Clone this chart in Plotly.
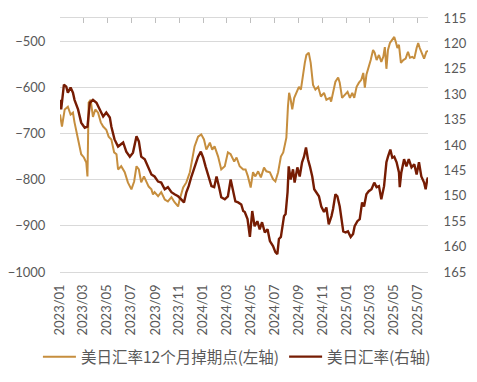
import plotly.graph_objects as go

# USD/JPY 12-month forward points (left axis)
fwd_points = [
    ("2023-01-01", -659), ("2023-01-06", -685), ("2023-01-13", -648), ("2023-01-21", -642),
    ("2023-01-28", -659), ("2023-02-03", -655), ("2023-02-07", -676), ("2023-02-12", -698),
    ("2023-02-18", -720), ("2023-02-24", -745), ("2023-03-03", -752), ("2023-03-09", -763),
    ("2023-03-12", -793), ("2023-03-15", -633), ("2023-03-20", -627), ("2023-03-26", -664),
    ("2023-04-01", -648), ("2023-04-08", -655), ("2023-04-15", -676), ("2023-04-21", -685),
    ("2023-04-29", -692), ("2023-05-05", -707), ("2023-05-12", -713), ("2023-05-19", -741),
    ("2023-05-25", -745), ("2023-05-29", -778), ("2023-06-06", -771), ("2023-06-15", -784),
    ("2023-06-23", -806), ("2023-07-02", -821), ("2023-07-09", -804), ("2023-07-15", -771),
    ("2023-07-21", -778), ("2023-07-27", -806), ("2023-08-03", -793), ("2023-08-09", -804),
    ("2023-08-15", -815), ("2023-08-22", -821), ("2023-08-26", -832), ("2023-08-30", -827),
    ("2023-09-08", -836), ("2023-09-16", -827), ("2023-09-25", -843), ("2023-10-03", -847),
    ("2023-10-12", -838), ("2023-10-20", -849), ("2023-10-29", -858), ("2023-11-02", -843),
    ("2023-11-11", -817), ("2023-11-19", -806), ("2023-11-28", -784), ("2023-12-04", -756),
    ("2023-12-10", -728), ("2023-12-19", -707), ("2023-12-27", -702), ("2024-01-03", -713),
    ("2024-01-09", -735), ("2024-01-18", -720), ("2024-01-24", -735), ("2024-01-30", -728),
    ("2024-02-08", -750), ("2024-02-16", -778), ("2024-02-25", -771), ("2024-03-04", -741),
    ("2024-03-11", -745), ("2024-03-20", -761), ("2024-03-26", -752), ("2024-04-03", -771),
    ("2024-04-12", -778), ("2024-04-18", -778), ("2024-04-24", -793), ("2024-05-01", -817),
    ("2024-05-07", -784), ("2024-05-13", -793), ("2024-05-20", -782), ("2024-05-27", -795),
    ("2024-06-04", -774), ("2024-06-10", -782), ("2024-06-19", -784), ("2024-06-27", -799),
    ("2024-07-03", -804), ("2024-07-10", -784), ("2024-07-17", -750), ("2024-07-23", -741),
    ("2024-07-27", -720), ("2024-07-31", -709), ("2024-08-04", -642), ("2024-08-07", -612),
    ("2024-08-11", -627), ("2024-08-15", -648), ("2024-08-20", -623), ("2024-08-26", -610),
    ("2024-09-01", -599), ("2024-09-06", -605), ("2024-09-12", -562), ("2024-09-16", -547),
    ("2024-09-20", -530), ("2024-09-26", -525), ("2024-10-01", -547), ("2024-10-07", -595),
    ("2024-10-13", -605), ("2024-10-20", -599), ("2024-10-27", -620), ("2024-11-04", -612),
    ("2024-11-10", -627), ("2024-11-19", -623), ("2024-11-22", -631), ("2024-11-27", -612),
    ("2024-12-03", -588), ("2024-12-10", -579), ("2024-12-14", -590), ("2024-12-20", -623),
    ("2024-12-27", -616), ("2025-01-03", -610), ("2025-01-09", -623), ("2025-01-15", -612),
    ("2025-01-20", -623), ("2025-01-26", -599), ("2025-02-01", -590), ("2025-02-07", -584),
    ("2025-02-12", -569), ("2025-02-16", -601), ("2025-02-20", -573), ("2025-02-26", -556),
    ("2025-03-03", -541), ("2025-03-09", -519), ("2025-03-13", -525), ("2025-03-18", -541),
    ("2025-03-24", -530), ("2025-03-30", -545), ("2025-04-04", -534), ("2025-04-08", -513),
    ("2025-04-12", -560), ("2025-04-16", -519), ("2025-04-21", -504), ("2025-04-27", -497),
    ("2025-05-02", -491), ("2025-05-06", -502), ("2025-05-10", -515), ("2025-05-14", -508),
    ("2025-05-19", -547), ("2025-05-25", -541), ("2025-05-31", -538), ("2025-06-06", -523),
    ("2025-06-11", -536), ("2025-06-17", -534), ("2025-06-22", -538), ("2025-06-28", -515),
    ("2025-07-02", -504), ("2025-07-06", -515), ("2025-07-12", -530), ("2025-07-17", -538),
    ("2025-07-23", -523), ("2025-07-27", -521),
]

# USD/JPY spot (right axis)
usdjpy = [
    ("2023-01-01", 131.1), ("2023-01-04", 133.0), ("2023-01-11", 128.1), ("2023-01-17", 128.5),
    ("2023-01-21", 129.7), ("2023-01-28", 128.7), ("2023-02-03", 129.7), ("2023-02-07", 131.1),
    ("2023-02-16", 133.0), ("2023-02-24", 135.6), ("2023-03-05", 136.6), ("2023-03-12", 136.4),
    ("2023-03-18", 131.7), ("2023-03-26", 131.1), ("2023-04-04", 131.7), ("2023-04-12", 133.0),
    ("2023-04-21", 134.4), ("2023-04-29", 133.6), ("2023-05-08", 134.6), ("2023-05-12", 136.4),
    ("2023-05-20", 138.9), ("2023-05-29", 140.3), ("2023-06-11", 139.5), ("2023-06-19", 141.3),
    ("2023-06-28", 142.3), ("2023-07-06", 141.5), ("2023-07-15", 138.3), ("2023-07-21", 139.3),
    ("2023-07-27", 142.3), ("2023-08-05", 142.8), ("2023-08-13", 144.2), ("2023-08-22", 145.8),
    ("2023-08-30", 146.2), ("2023-09-08", 147.2), ("2023-09-16", 147.4), ("2023-09-25", 148.7),
    ("2023-10-03", 148.3), ("2023-10-12", 149.3), ("2023-10-20", 149.7), ("2023-10-29", 150.1),
    ("2023-11-06", 150.7), ("2023-11-13", 151.3), ("2023-11-19", 149.3), ("2023-11-25", 148.1),
    ("2023-12-02", 146.2), ("2023-12-10", 144.2), ("2023-12-19", 142.3), ("2023-12-26", 141.3),
    ("2024-01-01", 142.5), ("2024-01-07", 144.2), ("2024-01-13", 145.8), ("2024-01-22", 148.1),
    ("2024-01-29", 148.3), ("2024-02-04", 146.2), ("2024-02-10", 148.1), ("2024-02-16", 150.3),
    ("2024-02-25", 150.7), ("2024-03-04", 150.1), ("2024-03-11", 146.8), ("2024-03-17", 148.7),
    ("2024-03-23", 151.1), ("2024-03-30", 151.3), ("2024-04-07", 151.7), ("2024-04-12", 153.0),
    ("2024-04-16", 153.2), ("2024-04-23", 154.6), ("2024-04-29", 158.1), ("2024-05-05", 153.0),
    ("2024-05-11", 156.0), ("2024-05-18", 155.0), ("2024-05-24", 156.6), ("2024-05-30", 155.2),
    ("2024-06-06", 157.2), ("2024-06-13", 156.6), ("2024-06-19", 158.9), ("2024-06-27", 159.9),
    ("2024-07-03", 161.1), ("2024-07-08", 161.5), ("2024-07-12", 158.5), ("2024-07-17", 158.1),
    ("2024-07-20", 156.2), ("2024-07-25", 154.0), ("2024-07-29", 153.6), ("2024-08-03", 149.3),
    ("2024-08-06", 144.2), ("2024-08-11", 146.8), ("2024-08-17", 144.8), ("2024-08-21", 147.4),
    ("2024-08-28", 144.4), ("2024-09-03", 146.2), ("2024-09-09", 143.4), ("2024-09-14", 142.3),
    ("2024-09-19", 140.5), ("2024-09-24", 142.8), ("2024-09-29", 144.2), ("2024-10-05", 146.2),
    ("2024-10-10", 148.7), ("2024-10-16", 149.3), ("2024-10-22", 150.1), ("2024-10-28", 152.1),
    ("2024-11-04", 153.2), ("2024-11-10", 152.3), ("2024-11-16", 155.6), ("2024-11-23", 154.0),
    ("2024-11-27", 152.6), ("2024-12-03", 149.7), ("2024-12-08", 150.1), ("2024-12-14", 152.1),
    ("2024-12-18", 154.6), ("2024-12-23", 157.0), ("2024-12-29", 157.2), ("2025-01-04", 157.0),
    ("2025-01-11", 158.1), ("2025-01-17", 157.5), ("2025-01-21", 156.0), ("2025-01-28", 155.0),
    ("2025-02-03", 154.6), ("2025-02-09", 151.3), ("2025-02-14", 152.1), ("2025-02-20", 149.7),
    ("2025-02-26", 149.1), ("2025-03-05", 148.7), ("2025-03-12", 147.4), ("2025-03-18", 148.3),
    ("2025-03-24", 148.1), ("2025-03-30", 150.7), ("2025-04-06", 148.1), ("2025-04-12", 143.4),
    ("2025-04-16", 142.3), ("2025-04-22", 140.9), ("2025-04-27", 142.5), ("2025-05-02", 142.3),
    ("2025-05-08", 143.4), ("2025-05-14", 145.4), ("2025-05-16", 148.3), ("2025-05-20", 145.4),
    ("2025-05-27", 142.8), ("2025-06-02", 144.2), ("2025-06-08", 142.8), ("2025-06-15", 144.4),
    ("2025-06-22", 143.8), ("2025-06-28", 145.8), ("2025-07-04", 143.4), ("2025-07-10", 146.2),
    ("2025-07-17", 147.4), ("2025-07-21", 148.7), ("2025-07-25", 146.8), ("2025-07-27", 146.4),
]

series_names = ["美日汇率12个月掉期点(左轴)", "美日汇率(右轴)"]
x_range = ["2023-01-01", "2025-07-27"]
left_range = [-1000, -450]
right_range = [165, 115]

GOLD = "#C68E3E"
DARK = "#761C03"
GRID = "#D9D9D9"
TXT = "#595959"
TICKFONT = dict(family="Lato, 'Noto Sans CJK SC', sans-serif", size=13, color=TXT)

fwd_dates = [d for d, _ in fwd_points]
fwd_vals = [v for _, v in fwd_points]
jpy_dates = [d for d, _ in usdjpy]
jpy_vals = [v for _, v in usdjpy]

fig = go.Figure()
fig.add_trace(go.Scatter(x=fwd_dates, y=fwd_vals, name=series_names[0], mode="lines",
                         line=dict(color=GOLD, width=2)))
fig.add_trace(go.Scatter(x=jpy_dates, y=jpy_vals, name=series_names[1], mode="lines",
                         yaxis="y2", line=dict(color=DARK, width=2.4)))
# carrier trace for the top tick axis
fig.add_trace(go.Scatter(x=x_range, y=left_range, xaxis="x2", mode="lines",
                         line=dict(width=0, color="rgba(0,0,0,0)"), showlegend=False,
                         hoverinfo="skip"))

# the page body adds an 8px offset, so margins are shifted to compensate
fig.update_layout(
    width=477, height=382,
    margin=dict(l=52, r=57, t=10, b=118, autoexpand=False),
    paper_bgcolor="white", plot_bgcolor="white",
    showlegend=True,
    legend=dict(orientation="h", x=-0.06, xanchor="left",
                y=-0.335, yanchor="middle",
                font=dict(family="'Noto Sans CJK SC', sans-serif", size=15.5, color=TXT),
                itemwidth=33, tracegroupgap=0, bgcolor="rgba(0,0,0,0)"),
    xaxis=dict(type="date", range=x_range, tickformat="%Y/%m", dtick="M2",
               tick0="2023-01-01", tickangle=-90, showgrid=False, zeroline=False,
               showline=True, linecolor=GRID, linewidth=1.3, ticks="outside",
               ticklen=6, tickcolor="rgba(0,0,0,0)", tickfont=TICKFONT, automargin=False),
    xaxis2=dict(type="date", range=x_range, overlaying="x", side="top", dtick="M2",
                tick0="2023-01-01", showticklabels=False, ticks="inside", ticklen=5,
                tickcolor="#BFBFBF", tickwidth=1, showline=True, linecolor=GRID,
                linewidth=1.3, showgrid=False, zeroline=False, automargin=False),
    yaxis=dict(range=left_range, dtick=100, tick0=-1000, showgrid=True, gridcolor=GRID,
               gridwidth=1.3, zeroline=False, showline=False, ticks="outside", ticklen=11,
               tickcolor="rgba(0,0,0,0)", tickfont=TICKFONT, automargin=False),
    yaxis2=dict(range=right_range, dtick=5, tick0=115, overlaying="y", side="right",
                showgrid=False, zeroline=False, showline=False, ticks="outside",
                ticklen=12, tickcolor="rgba(0,0,0,0)", tickfont=TICKFONT, automargin=False),
)

fig.write_html("out.html")
